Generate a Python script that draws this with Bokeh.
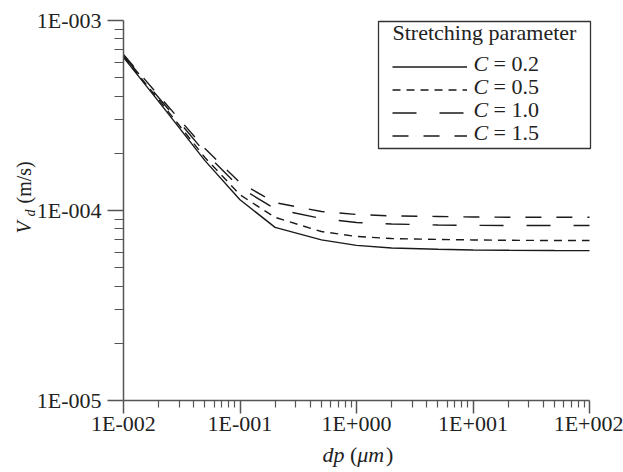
import math
from bokeh.plotting import figure
from bokeh.models import (Range1d, FixedTicker, CustomJSTickFormatter, Label,
                          Legend, LegendItem, BoxAnnotation, LogAxis)
from bokeh.embed import file_html
from bokeh.resources import INLINE

# ---------------- data ----------------
dp = [0.01, 0.02, 0.05, 0.1, 0.2, 0.5, 1, 2, 5, 10, 20, 50, 100]
vd_c02 = [6.40e-4, 3.75e-4, 1.83e-4, 1.14e-4, 8.15e-5, 7.00e-5, 6.55e-5,
          6.35e-5, 6.25e-5, 6.20e-5, 6.18e-5, 6.16e-5, 6.15e-5]
vd_c05 = [6.46e-4, 3.84e-4, 1.90e-4, 1.21e-4, 9.20e-5, 7.75e-5, 7.30e-5,
          7.12e-5, 7.04e-5, 7.00e-5, 6.97e-5, 6.95e-5, 6.95e-5]
vd_c10 = [6.54e-4, 3.93e-4, 2.02e-4, 1.32e-4, 1.02e-4, 9.08e-5, 8.65e-5,
          8.49e-5, 8.39e-5, 8.35e-5, 8.34e-5, 8.34e-5, 8.34e-5]
vd_c15 = [6.62e-4, 4.03e-4, 2.12e-4, 1.40e-4, 1.10e-4, 9.88e-5, 9.53e-5,
          9.36e-5, 9.30e-5, 9.24e-5, 9.22e-5, 9.22e-5, 9.22e-5]
c_values = ["0.2", "0.5", "1.0", "1.5"]
legend_title = "Stretching parameter"

x_ticks = [0.01, 0.1, 1, 10, 100]
x_tick_labels = ["1E-002", "1E-001", "1E+000", "1E+001", "1E+002"]
y_ticks = [1e-5, 1e-4, 1e-3]
y_tick_labels = ["1E-005", "1E-004", "1E-003"]

# ---------------- layout (pixels) ----------------
W, H = 623, 472
LEFT, RIGHT, TOP, BOTTOM = 123, 589, 20, 400     # data area inside the canvas
FIX = 3                                           # label vertical correction

FONT = "Liberation Serif"
LINE = "#1a1a1a"
AXIS = "#555555"
TXT = "#222222"
FS = "22px"

lx0, lx1 = math.log10(x_ticks[0]), math.log10(x_ticks[-1])
ly0, ly1 = math.log10(y_ticks[0]), math.log10(y_ticks[-1])
pdx = (RIGHT - LEFT) / (lx1 - lx0)
pdy = (BOTTOM - TOP) / (ly1 - ly0)
x_range = Range1d(10 ** (lx0 - LEFT / pdx), 10 ** (lx1 + (W - RIGHT) / pdx))
y_range = Range1d(10 ** (ly0 - (H - BOTTOM) / pdy), 10 ** (ly1 + TOP / pdy))

p = figure(width=W, height=H, x_axis_type="log", y_axis_type="log",
           x_axis_location=None, y_axis_location=None,
           x_range=x_range, y_range=y_range,
           output_backend="svg", toolbar_location=None,
           min_border_left=0, min_border_right=0,
           min_border_top=0, min_border_bottom=0)
p.outline_line_color = None
p.grid.visible = False
p.background_fill_color = "white"
p.border_fill_color = "white"

x_minor = [m * 10.0 ** e for e in range(-2, 2) for m in range(2, 10)]
y_minor = [m * 10.0 ** e for e in range(-5, -3) for m in range(2, 10)]

fmt_code = """
let best = 0, d = Infinity;
for (let i = 0; i < vals.length; i++) {
  const e = Math.abs(Math.log10(tick) - Math.log10(vals[i]));
  if (e < d) { d = e; best = i; }
}
return labels[best];
"""

xa = LogAxis(fixed_location=y_ticks[0], bounds=(x_ticks[0], x_ticks[-1]),
             ticker=FixedTicker(ticks=x_ticks, minor_ticks=x_minor),
             formatter=CustomJSTickFormatter(args=dict(vals=x_ticks, labels=x_tick_labels), code=fmt_code))
ya = LogAxis(fixed_location=x_ticks[0], bounds=(y_ticks[0], y_ticks[-1]),
             ticker=FixedTicker(ticks=y_ticks, minor_ticks=y_minor),
             formatter=CustomJSTickFormatter(args=dict(vals=y_ticks, labels=y_tick_labels), code=fmt_code))

for ax in (xa, ya):
    ax.axis_line_color = AXIS
    ax.axis_line_width = 1.5
    ax.major_tick_line_color = AXIS
    ax.minor_tick_line_color = AXIS
    ax.major_tick_line_width = 1.5
    ax.minor_tick_line_width = 1.2
    ax.major_tick_in = 0
    ax.minor_tick_in = 0
    ax.major_label_text_font = FONT
    ax.major_label_text_font_size = FS
    ax.major_label_text_color = TXT

xa.major_tick_out = 13
xa.minor_tick_out = 7
xa.major_label_standoff = -3
ya.major_tick_out = 16
ya.minor_tick_out = 9
ya.major_label_standoff = 6
p.add_layout(xa, "below")
p.add_layout(ya, "left")

# ---------------- lines ----------------
r1 = p.line(dp, vd_c02, line_color=LINE, line_width=1.4)
r2 = p.line(dp, vd_c05, line_color=LINE, line_width=1.4, line_dash="8 6")
r3 = p.line(dp, vd_c10, line_color=LINE, line_width=1.4, line_dash="24 23")
r4 = p.line(dp, vd_c15, line_color=LINE, line_width=1.4, line_dash="16 15")
rends = [r1, r2, r3, r4]

# ---------------- legend ----------------
box = BoxAnnotation(left=378, right=590, top=H - 21, bottom=H - 148,
                    left_units="screen", right_units="screen",
                    top_units="screen", bottom_units="screen",
                    fill_alpha=0, line_color="#333333", line_width=1.3,
                    line_alpha=1, line_dash="solid")
p.add_layout(box)

# legend draws only the line samples; the texts are placed as labels below
legend = Legend(items=[LegendItem(label=" ", renderers=[r]) for r in rends],
                location=(392, H - 147),
                padding=0, margin=0, spacing=0,
                glyph_width=75, glyph_height=23, label_height=1, label_width=1,
                label_standoff=0,
                border_line_alpha=0, background_fill_alpha=0,
                label_text_font=FONT, label_text_font_size="1px")
p.add_layout(legend)


def lab(x, y, t, style="normal", size=FS, angle=0.0, baseline="middle", dy=FIX):
    """x, y in page pixels from the top-left corner."""
    p.add_layout(Label(x=x, y=H - y + dy, x_units="screen", y_units="screen", text=t,
                       text_font=FONT, text_font_size=size, text_font_style=style,
                       text_color=TXT, text_baseline=baseline, text_align="left",
                       angle=angle))


lab(392, 35, legend_title)
row_centers = [65.5, 88.5, 111.5, 134.5]
for c, yc in zip(c_values, row_centers):
    lab(473, yc, "C", "italic")
    lab(493, yc, "= " + c)

# ---------------- axis titles ----------------
# x label: dp (μm)
XL = 457
lab(322, XL, "dp", "italic")
lab(349.5, XL, "(")
lab(356.8, XL, "μm", "italic")
lab(385.4, XL, ")")

# y label: V_d (m/s)  (rotated: local "down" points to +x)
a = math.pi / 2


def vlab(x, y, t, style="normal", size="20px"):
    p.add_layout(Label(x=x + FIX, y=H - y, x_units="screen", y_units="screen", text=t,
                       text_font=FONT, text_font_size=size, text_font_style=style,
                       text_color=TXT, text_baseline="middle", text_align="left",
                       angle=a))


vlab(20.5, 233, "V", "italic")
vlab(26.5, 216, "d", "italic", size="14px")
vlab(20.5, 203, "(m/s)")

open("out.html", "w").write(file_html(p, INLINE))
